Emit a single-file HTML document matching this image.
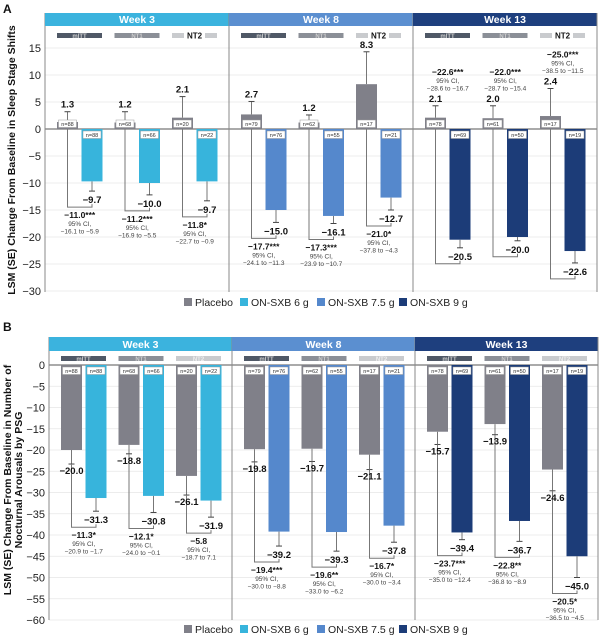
<!DOCTYPE html>
<html><head><meta charset="utf-8"><style>
body{margin:0;background:#fff}
svg{display:block;font-family:"Liberation Sans",Arial,sans-serif}
</style></head><body>
<svg id="chart" width="600" height="635" viewBox="0 0 600 635" xmlns="http://www.w3.org/2000/svg"></svg>
<script>
const weeks = ["Week 3","Week 8","Week 13"];
const subgroups = ["mITT","NT1","NT2"];
// Panel A: sleep stage shifts
const aPlacebo = [1.3,1.2,2.1, 2.7,1.2,8.3, 2.1,2.0,2.4];
const aPlaceboSE = [1.9,2.0,3.9, 2.4,1.4,6.0, 2.2,2.3,5.1];
const aDrug = [-9.7,-10.0,-9.7, -15.0,-16.1,-12.7, -20.5,-20.0,-22.6];
const aDrugSE = [1.8,2.2,3.6, 2.3,1.4,2.3, 1.5,0.7,2.2];
const aNPlacebo = [88,68,20, 79,62,17, 78,61,17];
const aNDrug = [88,66,22, 76,55,21, 69,50,19];
const aDiff = ["−11.0***","−11.2***","−11.8*","−17.7***","−17.3***","−21.0*","−22.6***","−22.0***","−25.0***"];
const aCI = ["−16.1 to −5.9","−16.9 to −5.5","−22.7 to −0.9","−24.1 to −11.3","−23.9 to −10.7","−37.8 to −4.3","−28.6 to −16.7","−28.7 to −15.4","−38.5 to −11.5"];
const aTicks = [15,10,5,0,-5,-10,-15,-20,-25,-30];
// Panel B: nocturnal arousals
const bPlacebo = [-20.0,-18.8,-26.1, -19.8,-19.7,-21.1, -15.7,-13.9,-24.6];
const bPlaceboSE = [3.3,2.1,4.5, 3.0,3.0,3.5, 3.0,2.5,5.0];
const bDrug = [-31.3,-30.8,-31.9, -39.2,-39.3,-37.8, -39.4,-36.7,-45.0];
const bDrugSE = [3.1,3.9,3.9, 3.4,4.5,3.9, 1.7,4.8,5.0];
const bNPlacebo = [88,68,20, 79,62,17, 78,61,17];
const bNDrug = [88,66,22, 76,55,21, 69,50,19];
const bDiff = ["−11.3*","−12.1*","−5.8","−19.4***","−19.6**","−16.7*","−23.7***","−22.8**","−20.5*"];
const bCI = ["−20.9 to −1.7","−24.0 to −0.1","−18.7 to 7.1","−30.0 to −8.8","−33.0 to −6.2","−30.0 to −3.4","−35.0 to −12.4","−36.8 to −8.9","−36.5 to −4.5"];
const bTicks = [0,-5,-10,-15,-20,-25,-30,-35,-40,-45,-50,-55,-60];

const weekColors = ["#3bb3de","#5b8fd0","#1e3f7e"];
const drugColors = ["#37b4dc","#5588cc","#1c3c78"];
const placeboColor = "#808089";
const svg = document.getElementById('chart');
const NS = "http://www.w3.org/2000/svg";
function mk(tag, attrs, parent){const e=document.createElementNS(NS,tag);for(const k in attrs)e.setAttribute(k,attrs[k]);(parent||svg).appendChild(e);return e;}
function txt(x,y,s,size,opt,parent){opt=opt||{};const t=mk('text',{x:x,y:y,'font-size':size,'text-anchor':opt.anchor||'middle',fill:opt.fill||'#111','font-weight':opt.bold?'bold':'normal'},parent);t.textContent=s;return t;}

function drawPanel(p){
  const g=mk('g',{});
  
  
  const Y=v=>p.y0 - v*p.k;
  const right=p.x0s[2]+p.ww;
  // grid
  p.ticks.forEach(t=>{
    const gl=mk('line',{x1:p.x0s[0],x2:right,y1:Y(t),y2:Y(t),stroke:t===0?'#555':'#e6e6e6','stroke-width':t===0?1:0.8},g);
    
    
    const tl=txt(p.x0s[0]-4,Y(t)+4,String(t).replace('-','−'),11,{anchor:'end',fill:'#222'},g);
    
    
  });
  mk('line',{x1:p.x0s[0],x2:p.x0s[0],y1:p.hy,y2:p.bottom,stroke:'#888','stroke-width':1},g);
  // week headers
  weeks.forEach((w,wi)=>{
    const x0=p.x0s[wi];
    const hr=mk('rect',{x:x0,y:p.hy,width:p.ww,height:p.hh,fill:weekColors[wi]},g);
    
    
    txt(x0+p.ww/2,p.hy+p.hh-3,w,10.5,{bold:true,fill:'#fff'},g);
    mk('line',{x1:x0+p.ww,x2:x0+p.ww,y1:p.hy,y2:p.bottom,stroke:'#888','stroke-width':1},g);
    subgroups.forEach((s,si)=>{
      const cx=x0+12+si*57.5;
      const shade=['#4f5866','#8b8f97','#c9cbce'][si];
      const sb=mk('rect',{x:cx,y:p.sy,width:45,height:5,fill:shade},g);
      
      
      if(p.nt2Bold && si===2){
        mk('rect',{x:cx+12,y:p.sy-1,width:21,height:7,fill:'#fff'},g);
        txt(cx+22.5,p.sy+5.5,s,8,{bold:true,fill:'#111'},g);
      } else {
        txt(cx+22.5,p.sy+4.8,s,6,{bold:true,fill:si===2?'#eee':'#ccc'},g);
      }
      const i=wi*3+si;
      const pcx=cx+10.5, dcx=cx+35;
      const bw=21;
      // placebo bar
      const pv=p.placebo[i], pse=p.placeboSE[i];
      const pb=mk('rect',{x:pcx-bw/2,y:Math.min(Y(0),Y(pv)),width:bw,height:Math.abs(Y(pv)-Y(0)),fill:placeboColor},g);
      
      
      const dv=p.drug[i], dse=p.drugSE[i];
      const db=mk('rect',{x:dcx-bw/2,y:Math.min(Y(0),Y(dv)),width:bw,height:Math.abs(Y(dv)-Y(0)),fill:drugColors[wi]},g);
      
      
      // whiskers
      const pEnd = pv>=0 ? pv+pse : pv-pse;
      const dEnd = dv-dse;
      mk('line',{x1:pcx,x2:pcx,y1:Y(pv),y2:Y(pEnd),stroke:'#777','stroke-width':1},g);
      mk('line',{x1:pcx-3,x2:pcx+3,y1:Y(pEnd),y2:Y(pEnd),stroke:'#444','stroke-width':1},g);
      mk('line',{x1:dcx,x2:dcx,y1:Y(dv),y2:Y(dEnd),stroke:'#777','stroke-width':1},g);
      mk('line',{x1:dcx-3,x2:dcx+3,y1:Y(dEnd),y2:Y(dEnd),stroke:'#444','stroke-width':1},g);
      // bracket
      const by=Y(dEnd)+16;
      const startY = pv>=0 ? Y(0) : Y(pEnd)+ (p.placeboBelow?16:0);
      mk('polyline',{points:`${pcx},${pv>=0?Y(0):Y(pEnd)} ${pcx},${by} ${dcx},${by} ${dcx},${by-3}`,fill:'none',stroke:'#777','stroke-width':1},g);
      // n labels
      const nY = Y(0);
      const pnY = pv>=0 ? nY-9 : nY+2;
      mk('rect',{x:pcx-9,y:pnY,width:18,height:7.5,fill:'#fff',stroke:'#999','stroke-width':0.5},g);
      txt(pcx,pnY+6,'n='+p.nP[i],5.5,{fill:'#333'},g);
      mk('rect',{x:dcx-9,y:nY+2,width:18,height:7.5,fill:'#fff',stroke:'#999','stroke-width':0.5},g);
      txt(dcx,nY+8,'n='+p.nD[i],5.5,{fill:'#333'},g);
      // value labels
      let plY;
      if(pv>=0){ plY=Y(pEnd)-4; }
      else { plY=Y(pEnd)+10; }
      const pl=txt(pcx,plY,String(pv.toFixed(1)).replace('-','−'),9.5,{bold:true},g);
      
      
      const dl=txt(dcx,Y(dEnd)+12,String(dv.toFixed(1)).replace('-','−'),9.5,{bold:true},g);
      
      
      // diff labels
      let ty = by+11;
      if(p.diffAbove && p.diffAbove[i]) ty = plY-27;
      const cxm=(pcx+dcx)/2;
      const dt=txt(cxm,ty,p.diff[i],8.5,{bold:true},g);
      
      
      txt(cxm,ty+8,'95% CI,',6.5,{fill:'#444'},g);
      txt(cxm,ty+15.5,p.ci[i],6.5,{fill:'#444'},g);
    });
  });
  // panel letter
  txt(3,p.letterY,p.letter,12,{anchor:'start',bold:true},g);
  // y title
  p.ytitle.forEach((t,ti)=>{
    const yx=p.ytx+ti*11;
    const yt=txt(yx,p.ytY,t,10.5,{bold:true},g);
    yt.setAttribute('transform',`rotate(-90 ${yx} ${p.ytY})`);
    
    
  });
  // legend
  const items=[["Placebo",placeboColor,184],["ON-SXB 6 g",drugColors[0],240],["ON-SXB 7.5 g",drugColors[1],317],["ON-SXB 9 g",drugColors[2],399]];
  items.forEach(it=>{
    const lg=mk('g',{},g);
    
    
    mk('rect',{x:it[2],y:p.legY-7,width:8,height:8,fill:it[1]},lg);
    txt(it[2]+11,p.legY+1,it[0],10.5,{anchor:'start',fill:'#222'},lg);
  });
}
drawPanel({name:'panel-a-sleep-stage-shifts',x0s:[45,229,413],ww:184,y0:129,k:5.4,ticks:aTicks,hy:13,hh:13,sy:33,bottom:292,
  placebo:aPlacebo,placeboSE:aPlaceboSE,drug:aDrug,drugSE:aDrugSE,nP:aNPlacebo,nD:aNDrug,diff:aDiff,ci:aCI,nt2Bold:true,
  diffAbove:[0,0,0,0,0,0,1,1,1],letter:'A',letterY:13,ytitle:["LSM (SE) Change From Baseline in Sleep Stage Shifts"],ytx:15,ytY:160,legY:305});
drawPanel({name:'panel-b-nocturnal-arousals',x0s:[49,232,415],ww:183,y0:365,k:4.25,ticks:bTicks,hy:337,hh:14,sy:356,bottom:620,
  placebo:bPlacebo,placeboSE:bPlaceboSE,drug:bDrug,drugSE:bDrugSE,nP:bNPlacebo,nD:bNDrug,diff:bDiff,ci:bCI,nt2Bold:false,
  diffAbove:null,letter:'B',letterY:331,ytitle:["LSM (SE) Change From Baseline in Number of","Nocturnal Arousals by PSG"],ytx:11,ytY:480,legY:632});
</script>
</body></html>
